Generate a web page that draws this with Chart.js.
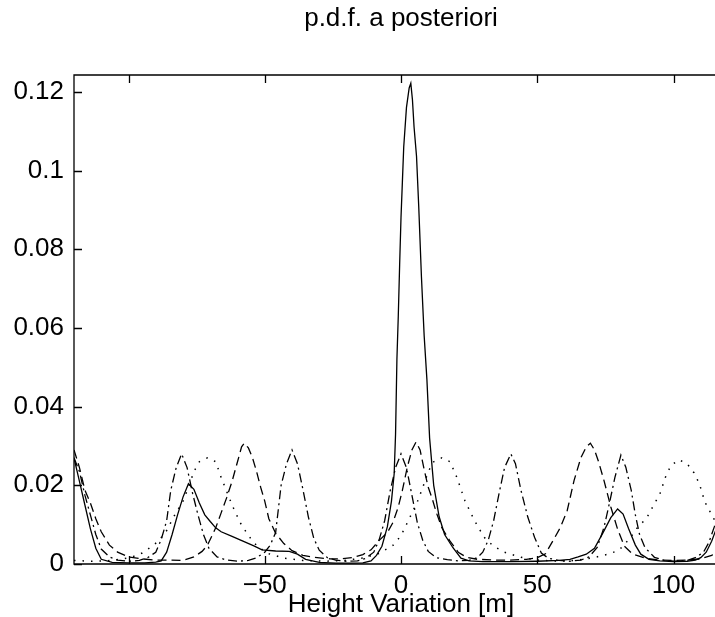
<!DOCTYPE html>
<html>
<head>
<meta charset="utf-8">
<script src="https://cdn.jsdelivr.net/npm/chart.js@4.4.1/dist/chart.umd.min.js"></script>
<style>
  html, body { margin: 0; padding: 0; background: #fff; overflow: hidden; }
  #wrap { width: 730px; height: 620px; }
</style>
</head>
<body>
<div id="wrap"><canvas id="grafico" width="730" height="620"></canvas></div>
<script>
// tick values
const xTicks = [-100, -50, 0, 50, 100];
const yTicks = [0, 0.02, 0.04, 0.06, 0.08, 0.1, 0.12];
const titulo = 'p.d.f. a posteriori';

// solid curve (posterior, big peak near +4 m)
const solidX = [-120, -118, -116, -114, -112, -110, -106, -100, -94, -90, -88, -86,
  -84, -82, -80, -78, -76, -74, -72, -70, -68, -66, -62, -58,
  -54, -51, -46, -41, -38, -35, -30, -24, -18, -14, -11, -9,
  -7, -5, -3.5, -2.5, -2, -1.5, -1, -0.5, 0, 0.5, 1, 2,
  3, 3.6, 4.2, 4.8, 5.7, 6.5, 7.5, 8.5, 9.5, 10.5, 12, 14,
  16, 19, 22, 25, 30, 40, 50, 58, 62, 65, 68, 71,
  74, 77, 79.5, 81.5, 83.5, 86, 88, 91, 95, 100, 105, 108,
  110, 112, 114, 116, 118, 120];
const solidY = [0.027, 0.021, 0.015, 0.009, 0.004, 0.0012, 0.0004, 0.0003, 0.0003, 0.0005, 0.0008, 0.003,
  0.0075, 0.0125, 0.017, 0.0204, 0.019, 0.0155, 0.0125, 0.0108, 0.0092, 0.0082, 0.007, 0.0058,
  0.0046, 0.0036, 0.0033, 0.0032, 0.0025, 0.0012, 0.0004, 0.0002, 0.0002, 0.0003, 0.0008, 0.0022,
  0.0045, 0.0095, 0.016, 0.023, 0.033, 0.052, 0.063, 0.076, 0.088, 0.097, 0.106, 0.116,
  0.121, 0.1222, 0.118, 0.111, 0.1036, 0.091, 0.073, 0.058, 0.047, 0.032, 0.02, 0.012,
  0.0075, 0.0042, 0.0015, 0.0008, 0.0006, 0.0006, 0.0007, 0.0009, 0.0012, 0.0018, 0.0025, 0.004,
  0.0078, 0.0118, 0.014, 0.0127, 0.009, 0.0048, 0.0025, 0.0012, 0.0008, 0.0006, 0.0007, 0.001,
  0.0016, 0.003, 0.0058, 0.0095, 0.015, 0.021];

// dashed curve
const dashedX = [-120, -118, -116, -114, -112, -110, -107, -104, -100, -95, -90, -85,
  -80, -76, -73, -71, -68, -66, -64, -62, -60, -58.5, -57.5, -56,
  -54.5, -53, -51.5, -50, -48.5, -46, -43, -40, -36, -32, -26, -22,
  -18, -14, -11, -8, -5, -3, -1, 0.5, 2.3, 4, 5.5, 7,
  8.5, 10, 11.5, 13, 15, 18, 21, 24, 28, 34, 40, 46,
  50, 53, 56, 58.5, 61, 63.5, 66, 68, 69.5, 71, 72.5, 74.5,
  77, 79.5, 82, 85, 90, 95, 100, 105, 110, 114, 117, 120];
const dashedY = [0.029, 0.0245, 0.0188, 0.0155, 0.0115, 0.0082, 0.0048, 0.003, 0.0018, 0.0013, 0.001, 0.001,
  0.0009, 0.0018, 0.0032, 0.0048, 0.0092, 0.013, 0.0168, 0.021, 0.026, 0.0298, 0.0307, 0.0295,
  0.027, 0.0235, 0.0195, 0.016, 0.0115, 0.0078, 0.0052, 0.0034, 0.0022, 0.0017, 0.0013, 0.0013,
  0.0016, 0.0024, 0.0036, 0.006, 0.008, 0.0105, 0.0145, 0.0187, 0.0246, 0.029, 0.031, 0.029,
  0.024, 0.0195, 0.0165, 0.013, 0.0092, 0.0058, 0.003, 0.0017, 0.0012, 0.001, 0.001, 0.0012,
  0.0016, 0.0026, 0.0062, 0.0093, 0.0136, 0.0212, 0.027, 0.0298, 0.0307, 0.029, 0.026, 0.0212,
  0.0145, 0.0088, 0.0045, 0.0025, 0.0014, 0.001, 0.0009, 0.001, 0.0013, 0.0022, 0.0035, 0.005];

// dash-dot curve
const dashDotX = [-120, -118, -116, -114, -112, -110, -107, -104, -100, -96, -93, -90,
  -88, -86, -84.5, -82.5, -80.5, -78.5, -76.5, -74.5, -72.5, -70.5, -67.5, -64,
  -60, -56, -53, -50, -48, -46, -44, -42, -40, -38, -36, -34,
  -32, -30, -27, -24, -20, -16, -13, -10, -8, -6, -4, -2,
  0, 2, 4, 6, 8, 10, 13, 17, 21, 25, 28, 30,
  32, 34, 36, 38, 40.3, 42, 44, 46.5, 49, 51.5, 54, 58,
  62, 66, 69, 72, 74.5, 76.5, 78.5, 80.7, 82.5, 84.5, 86, 87.5,
  89.5, 93, 97, 101, 105, 108, 111, 113, 115, 117, 119, 120];
const dashDotY = [0.027, 0.0235, 0.0175, 0.0125, 0.0075, 0.0038, 0.0018, 0.001, 0.0007, 0.0009, 0.0016, 0.003,
  0.0062, 0.011, 0.0187, 0.0245, 0.028, 0.0245, 0.018, 0.0125, 0.0075, 0.004, 0.0018, 0.001,
  0.0007, 0.0009, 0.0016, 0.003, 0.0048, 0.008, 0.02, 0.0255, 0.029, 0.0255, 0.019, 0.012,
  0.0065, 0.0035, 0.0016, 0.001, 0.0007, 0.0008, 0.0014, 0.003, 0.0062, 0.011, 0.0185, 0.0245,
  0.028, 0.0245, 0.0175, 0.0105, 0.006, 0.0032, 0.0016, 0.0011, 0.0008, 0.0009, 0.0016, 0.003,
  0.006, 0.011, 0.018, 0.0245, 0.028, 0.0255, 0.0188, 0.012, 0.0068, 0.0028, 0.0015, 0.0009,
  0.0007, 0.001, 0.0018, 0.0042, 0.0093, 0.0155, 0.022, 0.0277, 0.0246, 0.0187, 0.0125, 0.0076,
  0.0042, 0.0017, 0.0008, 0.0007, 0.0009, 0.0016, 0.003, 0.0055, 0.0095, 0.015, 0.021, 0.024];

// dotted curve
const dottedX = [-120, -114, -108, -103, -99, -95, -92, -89, -86, -83, -80, -78,
  -76, -74, -71, -68, -66, -64, -62, -59, -56, -53, -49, -43,
  -36, -28, -21, -14, -8, -3, 0, 3, 6, 8, 10, 12,
  15, 18, 20.5, 23.5, 27, 30.5, 34, 38, 44, 50, 58, 64,
  70, 76, 80, 84, 87, 90, 93, 95, 97, 99, 102, 105,
  107.5, 109.5, 111.5, 113.5, 116, 120];
const dottedY = [0.0009, 0.0007, 0.0008, 0.0012, 0.0017, 0.0028, 0.0042, 0.0058, 0.0085, 0.0125, 0.016, 0.0195,
  0.0235, 0.026, 0.027, 0.026, 0.022, 0.0185, 0.015, 0.0105, 0.0072, 0.0047, 0.0027, 0.0015,
  0.0009, 0.0007, 0.0009, 0.0015, 0.0027, 0.0047, 0.0072, 0.0115, 0.0158, 0.0195, 0.0235, 0.026,
  0.027, 0.026, 0.022, 0.016, 0.011, 0.0068, 0.0045, 0.003, 0.0017, 0.001, 0.0007, 0.0009,
  0.0015, 0.0025, 0.0035, 0.0065, 0.0095, 0.0115, 0.0153, 0.0178, 0.022, 0.025, 0.0265, 0.0255,
  0.0232, 0.0204, 0.0158, 0.0132, 0.01, 0.0055];

const FONTE = "'Liberation Sans', Arial, sans-serif";

function pontos(xs, ys) {
  return xs.map((x, i) => ({ x: x, y: ys[i] }));
}

function serie(xs, ys, dash, largura) {
  return {
    data: pontos(xs, ys),
    borderColor: '#000',
    borderWidth: largura || 1.3,
    borderDash: dash,
    pointRadius: 0,
    tension: 0,
    fill: false
  };
}

// MATLAB style box with ticks pointing inwards, title centred over the axes
const caixaTicks = {
  id: 'caixaTicks',
  afterDatasetsDraw(chart) {
    const { ctx, chartArea: a, scales: { x, y } } = chart;
    const tam = 8;
    ctx.save();
    ctx.strokeStyle = '#000';
    ctx.lineWidth = 1.3;
    ctx.beginPath();
    ctx.rect(a.left, a.top, a.right - a.left, a.bottom - a.top);
    xTicks.forEach(v => {
      const px = Math.round(x.getPixelForValue(v)) + 0.5;
      ctx.moveTo(px, a.bottom); ctx.lineTo(px, a.bottom - tam);
      ctx.moveTo(px, a.top); ctx.lineTo(px, a.top + tam);
    });
    yTicks.forEach(v => {
      const py = Math.round(y.getPixelForValue(v)) + 0.5;
      ctx.moveTo(a.left, py); ctx.lineTo(a.left + tam, py);
      ctx.moveTo(a.right, py); ctx.lineTo(a.right - tam, py);
    });
    ctx.stroke();

    ctx.fillStyle = '#000';
    ctx.font = '26px ' + FONTE;
    ctx.textAlign = 'center';
    ctx.textBaseline = 'alphabetic';
    ctx.fillText(titulo, (a.left + a.right) / 2, 26);
    ctx.restore();
  }
};

const ctx = document.getElementById('grafico').getContext('2d');
new Chart(ctx, {
  type: 'line',
  data: {
    datasets: [
      serie(solidX, solidY, []),
      serie(dashedX, dashedY, [9, 5]),
      serie(dottedX, dottedY, [1.5, 7], 1.5),
      serie(dashDotX, dashDotY, [9, 4, 2, 4])
    ]
  },
  options: {
    responsive: false,
    animation: false,
    layout: { padding: { left: 0, right: 2, top: 75, bottom: 0 } },
    plugins: {
      legend: { display: false },
      tooltip: { enabled: false },
      title: { display: false }
    },
    scales: {
      x: {
        type: 'linear',
        min: -120,
        max: 120,
        afterBuildTicks: s => { s.ticks = xTicks.map(v => ({ value: v })); },
        afterFit: s => { s.height = 56; },
        grid: { display: false, drawTicks: false },
        border: { display: false },
        ticks: {
          color: '#000',
          padding: 6,
          maxRotation: 0,
          font: { family: FONTE, size: 26 },
          callback: v => (v < 0 ? '\u2212' + Math.abs(v) : String(v))
        },
        title: {
          display: true,
          text: 'Height Variation [m]',
          color: '#000',
          font: { family: FONTE, size: 26 },
          padding: { top: 0, bottom: 0 }
        }
      },
      y: {
        min: 0,
        max: 0.1243,
        afterBuildTicks: s => { s.ticks = yTicks.map(v => ({ value: v })); },
        afterFit: s => { s.width = 74; },
        grid: { display: false, drawTicks: false },
        border: { display: false },
        ticks: {
          color: '#000',
          padding: 10,
          font: { family: FONTE, size: 26 },
          callback: v => String(v)
        }
      }
    }
  },
  plugins: [caixaTicks]
});
</script>
</body>
</html>
